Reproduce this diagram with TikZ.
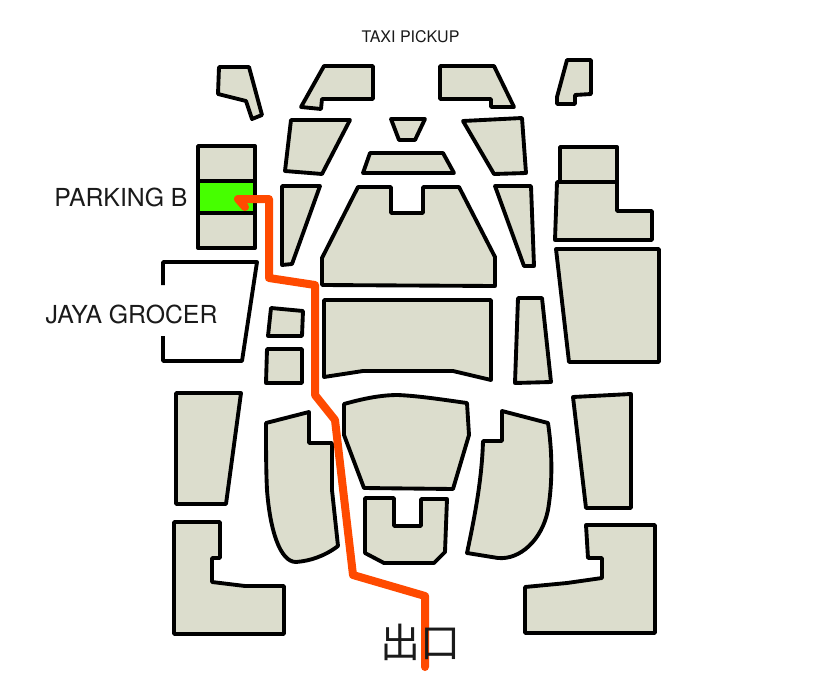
\documentclass[tikz,border=0pt]{standalone}
\usepackage{fontspec}
\setmainfont{TeX Gyre Heros}
\newfontfamily\cjkfont{Noto Sans CJK JP}
\definecolor{blockfill}{HTML}{DCDDCD}
\definecolor{routeorange}{HTML}{FF4A00}
\definecolor{parkgreen}{HTML}{46FF00}
\definecolor{labelink}{HTML}{1A1A1A}
\tikzset{
  block/.style={draw=black,fill=blockfill,line width=2.9pt,line join=round},
  route/.style={draw=routeorange,line width=6pt,line join=round,line cap=round},
  maplabel/.style={text=labelink,inner sep=0pt,anchor=center}
}
\begin{document}
\begin{tikzpicture}[x=.75pt,y=-.75pt]
\useasboundingbox (0,0) rectangle (840,700);
\fill[white] (0,0) rectangle (840,700);
% top row
\draw[block] (219,67)--(249,67)--(262,115)--(252,119)--(246,101)--(218,94)--cycle;
\draw[block] (324,66)--(373,66)--(373,99)--(322,99)--(321,109)--(301,107)--cycle;
\draw[block] (440,66)--(494,66)--(514,107)--(491,107)--(491,99)--(440,99)--cycle;
\draw[block] (567,60)--(591,60)--(591,94)--(575,95)--(575,104)--(557,104)--(557,97)--cycle;
% second row
\draw[block] (291,120)--(350,120)--(322,174)--(285,171)--cycle;
\draw[block] (391,119)--(425,119)--(415,140)--(399,140)--cycle;
\draw[block] (370,153)--(443,153)--(454,173)--(363,173)--cycle;
\draw[block] (463,121)--(522,118)--(526,173)--(494,174)--cycle;
% left stack
\draw[block] (198,146) rectangle (255,181);
\draw[block,fill=parkgreen] (198,181) rectangle (255,213);
\draw[block] (198,213) rectangle (255,248);
% slim wedges
\draw[block] (282,186)--(320,186)--(292,264)--(282,265)--cycle;
\draw[block] (495,186)--(531,186)--(534,266)--(524,266)--cycle;
% central
\draw[block] (358,187)--(391,187)--(391,213)--(423,213)--(423,187)--(459,187)--(495,257)--(495,286)--(322,285)--(322,258)--cycle;
% right stack
\draw[block] (560,147) rectangle (617,182);
\draw[block] (557,182)--(617,182)--(617,211)--(652,211)--(652,240)--(555,240)--cycle;
\draw[block] (556,249)--(659,249)--(659,362)--(569,362)--cycle;
% Jaya Grocer outline
\draw[line width=2.9pt,line join=round,black] (163,285)--(163,262)--(257,262)--(242,361)--(163,361)--(163,336);
% small boxes
\draw[block] (271,308)--(303,311)--(302,336)--(268,336)--cycle;
\draw[block] (267,349)--(302,349)--(302,383)--(266,383)--cycle;
% mid block
\draw[block] (324,300)--(491,300)--(491,380)--(453,371)--(363,371)--(324,377)--cycle;
\draw[block] (518,298)--(542,298)--(551,382)--(515,383)--cycle;
% lower trapezoids
\draw[block] (176,393)--(241,393)--(226,504)--(176,504)--cycle;
\draw[block] (573,397)--(631,394)--(631,508)--(586,508)--cycle;
% lower L shapes
\draw[block] (174,522)--(220,522)--(220,558)--(212,558)--(212,582)--(245,586)--(284,586)--(284,634)--(174,634)--cycle;
\draw[block] (586,525)--(655,525)--(655,633)--(525,633)--(525,587)--(567,583)--(602,578)--(602,558)--(588,558)--cycle;
% curved blocks
\draw[block] (266,423)--(309,412)--(309,443)--(332,443)--(332,490)--(338,546)
  .. controls (325,556) and (310,561) .. (296,562)
  .. controls (280,562) and (270,530) .. (267,490)
  .. controls (266,470) and (266,445) .. (266,423)--cycle;
\draw[block] (502,411)--(548,423)
  .. controls (552,450) and (553,480) .. (548,510)
  .. controls (542,540) and (520,560) .. (498,558)
  --(467,553) .. controls (474,520) and (482,480) .. (483,441)--(502,441)--cycle;
% centre hexagon
\draw[block] (344,404) .. controls (362,399) and (380,395) .. (398,395)
  .. controls (420,396) and (445,400) .. (467,403)
  --(469,435)--(453,489)--(364,488)--(344,435)--cycle;
% U shape
\draw[block] (365,498)--(394,498)--(394,526)--(421,526)--(421,499)--(447,499)--(445,552)--(434,563)--(384,563)--(365,553)--cycle;
% labels
\node[maplabel,font=\fontsize{12pt}{14pt}\selectfont] (taxi) at (410.5,37) {TAXI PICKUP};
\node[maplabel,font=\fontsize{18.6pt}{20pt}\selectfont] (parking) at (121,197) {PARKING B};
\node[maplabel,font=\fontsize{18.6pt}{20pt}\selectfont] (jaya) at (131.5,314) {JAYA GROCER};
% route
\draw[route] (245,207)--(238,199)--(269,199)--(269,278)--(315,285)--(315,395)--(335,420)--(353,575)--(425,596)--(425,667);
\node[maplabel,font=\cjkfont\fontsize{30pt}{32pt}\selectfont] (exit) at (420.5,642) {出口};
\end{tikzpicture}
\end{document}
